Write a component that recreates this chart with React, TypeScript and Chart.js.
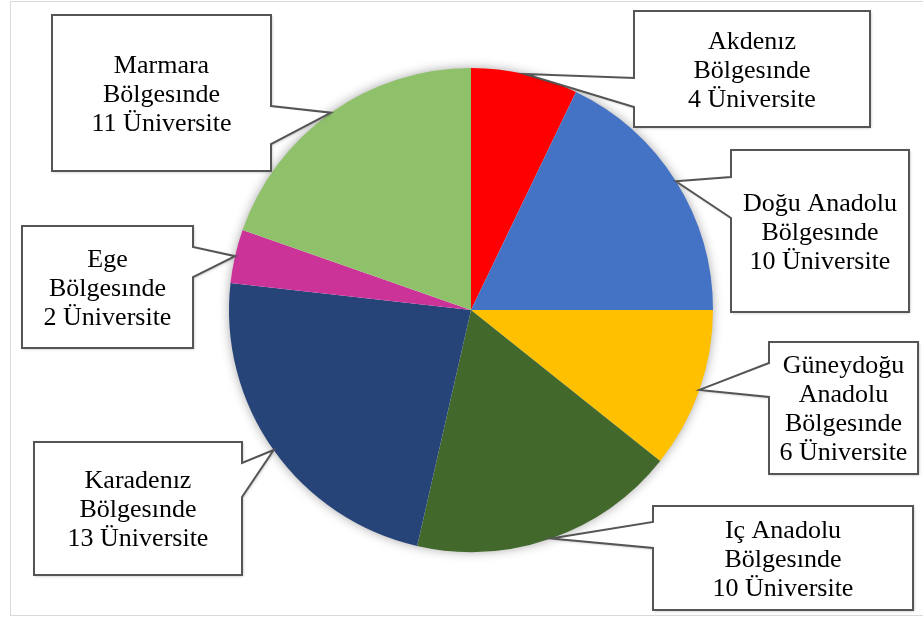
import React, { useEffect, useRef } from "react";
import { Chart, registerables } from "chart.js";

Chart.register(...registerables);

const regionNames: string[][] = [
  ["Akdenız"],
  ["Doğu Anadolu"],
  ["Güneydoğu", "Anadolu"],
  ["Iç Anadolu"],
  ["Karadenız"],
  ["Ege"],
  ["Marmara"],
];
const universityCounts: number[] = [4, 10, 6, 10, 13, 2, 11];
const sliceColors: string[] = ["#FF0000", "#4472C4", "#FFC000", "#43682B", "#264478", "#CC3399", "#8FC06A"];

// callout box layout: x, y, w, h, side of pointer, pointer base start/end (y)
const calloutBoxes = [
  { x: 634, y: 11, w: 236, h: 116, side: "left", b1: 78, b2: 107 },
  { x: 731, y: 150, w: 178, h: 162, side: "left", b1: 177, b2: 218 },
  { x: 769, y: 342, w: 149, h: 132, side: "left", b1: 363, b2: 397 },
  { x: 653, y: 506, w: 260, h: 104, side: "left", b1: 522, b2: 548 },
  { x: 34, y: 442, w: 208, h: 133, side: "right", b1: 463, b2: 497 },
  { x: 22, y: 226, w: 171, h: 122, side: "right", b1: 247, b2: 277 },
  { x: 52, y: 15, w: 219, h: 156, side: "right", b1: 106, b2: 144 },
];

const labelLines = (i: number): string[] => [...regionNames[i], "Bölgesınde", `${universityCounts[i]} Üniversite`];

const framePlugin = {
  id: "frame",
  beforeDraw(chart: any) {
    const ctx = chart.ctx;
    ctx.save();
    ctx.fillStyle = "#FFFFFF";
    ctx.fillRect(0, 0, chart.width, chart.height);
    ctx.strokeStyle = "#D9D9D9";
    ctx.lineWidth = 1;
    ctx.strokeRect(10.5, 1.5, chart.width + 10, 614);
    ctx.restore();
  },
  beforeDatasetsDraw(chart: any) {
    const meta = chart.getDatasetMeta(0);
    const arc = meta.data[0];
    if (!arc) return;
    const ctx = chart.ctx;
    ctx.save();
    ctx.beginPath();
    ctx.arc(arc.x, arc.y, arc.outerRadius - 1, 0, Math.PI * 2);
    ctx.fillStyle = "#FFFFFF";
    ctx.shadowColor = "rgba(0,0,0,0.4)";
    ctx.shadowBlur = 12;
    ctx.fill();
    ctx.restore();
  },
};

const calloutPlugin = {
  id: "callouts",
  afterDatasetsDraw(chart: any) {
    const meta = chart.getDatasetMeta(0);
    const ctx = chart.ctx;
    meta.data.forEach((arc: any, i: number) => {
      const b = calloutBoxes[i];
      if (!b) return;
      const mid = (arc.startAngle + arc.endAngle) / 2;
      const tx = arc.x + Math.cos(mid) * arc.outerRadius;
      const ty = arc.y + Math.sin(mid) * arc.outerRadius;
      ctx.save();
      ctx.beginPath();
      if (b.side === "left") {
        ctx.moveTo(b.x, b.y);
        ctx.lineTo(b.x + b.w, b.y);
        ctx.lineTo(b.x + b.w, b.y + b.h);
        ctx.lineTo(b.x, b.y + b.h);
        ctx.lineTo(b.x, b.b2);
        ctx.lineTo(tx, ty);
        ctx.lineTo(b.x, b.b1);
      } else {
        ctx.moveTo(b.x, b.y);
        ctx.lineTo(b.x + b.w, b.y);
        ctx.lineTo(b.x + b.w, b.b1);
        ctx.lineTo(tx, ty);
        ctx.lineTo(b.x + b.w, b.b2);
        ctx.lineTo(b.x + b.w, b.y + b.h);
        ctx.lineTo(b.x, b.y + b.h);
      }
      ctx.closePath();
      ctx.fillStyle = "#FFFFFF";
      ctx.shadowColor = "rgba(0,0,0,0.3)";
      ctx.shadowBlur = 3;
      ctx.shadowOffsetX = 1;
      ctx.shadowOffsetY = 1;
      ctx.fill();
      ctx.shadowColor = "transparent";
      ctx.strokeStyle = "#555555";
      ctx.lineWidth = 2;
      ctx.lineJoin = "miter";
      ctx.stroke();

      const lines = labelLines(i);
      ctx.fillStyle = "#000000";
      ctx.font = '26px "Liberation Serif", "Times New Roman", serif';
      ctx.textAlign = "center";
      ctx.textBaseline = "middle";
      const cx = b.x + b.w / 2;
      const cy = b.y + b.h / 2;
      const lh = 29;
      lines.forEach((ln, k) => {
        ctx.fillText(ln, cx, cy + (k - (lines.length - 1) / 2) * lh + 2);
      });
      ctx.restore();
    });
  },
};

export default function App() {
  const canvasRef = useRef<HTMLCanvasElement | null>(null);

  useEffect(() => {
    if (!canvasRef.current) return;
    const chart = new Chart(canvasRef.current, {
      type: "pie",
      data: {
        labels: regionNames.map((n) => n.join(" ")),
        datasets: [
          {
            data: universityCounts,
            backgroundColor: sliceColors,
            borderWidth: 0,
          },
        ],
      },
      options: {
        responsive: false,
        animation: false,
        devicePixelRatio: 1,
        layout: { padding: { left: 229, right: 210, top: 68, bottom: 71 } },
        plugins: {
          legend: { display: false },
          tooltip: { enabled: false },
        },
      },
      plugins: [framePlugin, calloutPlugin],
    });
    return () => chart.destroy();
  }, []);

  return (
    <div style={{ position: "absolute", left: 0, top: 0, width: 923, height: 623, background: "#fff" }}>
      <canvas ref={canvasRef} width={923} height={623} style={{ display: "block", width: 923, height: 623 }} />
    </div>
  );
}
